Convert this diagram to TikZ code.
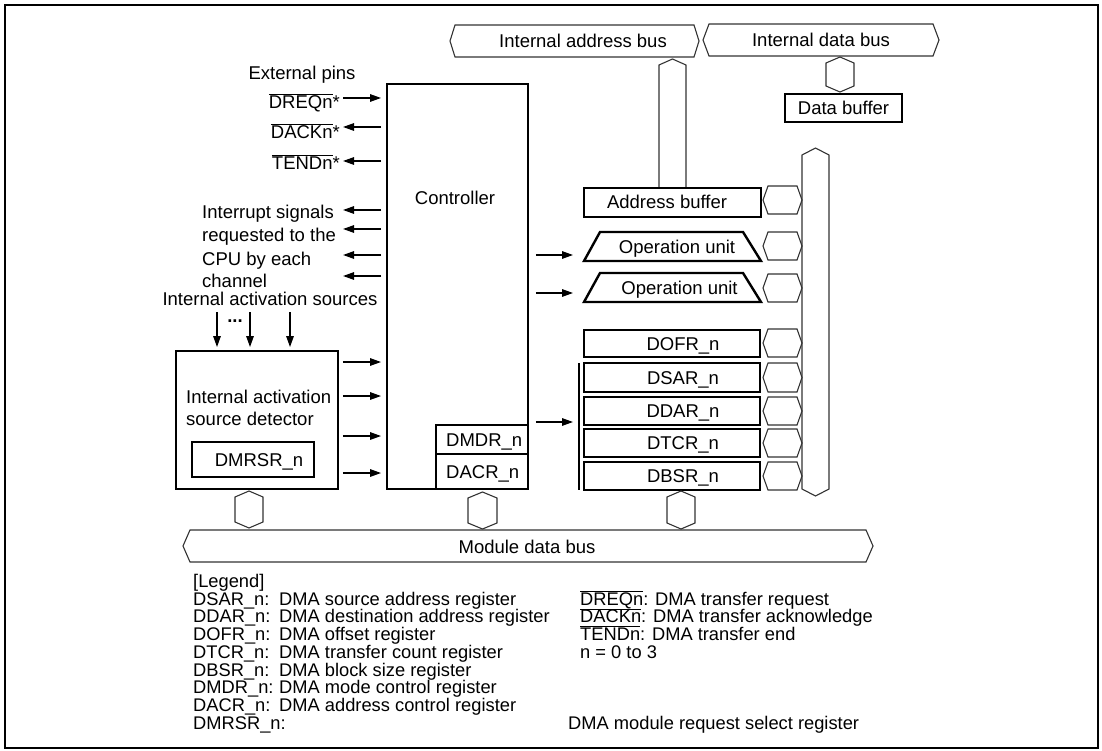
\documentclass[tikz,border=0pt]{standalone}
\usepackage{fontspec}
\setmainfont{Liberation Sans}
\usetikzlibrary{arrows.meta}
\newcommand{\mkhhex}[5]{\draw[thinln] (#1,{(#3+#4)/2}) -- ({#1+#5},#3) -- ({#2-#5},#3) -- (#2,{(#3+#4)/2}) -- ({#2-#5},#4) -- ({#1+#5},#4) -- cycle;}
\newcommand{\mkvhex}[5]{\draw[thinln] ({(#1+#2)/2},#3) -- (#2,{#3+#5}) -- (#2,{#4-#5}) -- ({(#1+#2)/2},#4) -- (#1,{#4-#5}) -- (#1,{#3+#5}) -- cycle;}
\newcommand{\ovl}[1]{$\overline{\mbox{#1}}$}
\tikzset{
  txt/.style={inner sep=0pt, text height=13.3pt, text depth=0pt, font=\fontsize{18.5}{20}\selectfont},
  leg/.style={inner sep=0pt, text height=13.1pt, text depth=0pt, font=\fontsize{18.3}{20}\selectfont, anchor=west},
  thinln/.style={draw=black!80, line width=1.1pt, line join=miter},
  boxthick/.style={draw=black, line width=2.4pt, line join=miter},
  boxmid/.style={draw=black, line width=1.9pt},
  sig/.style={line width=1.4pt, -{Triangle[length=11pt,width=7.5pt]}},
}
\begin{document}
\begin{tikzpicture}[x=1pt,y=-1pt]
\useasboundingbox (0,0) rectangle (1102,751);
\draw[line width=2pt] (5,5) rectangle (1098,748);

% ---- top buses
\mkhhex{450}{699}{25}{57}{5}
\node[txt] (iab) at (583,41) {Internal address bus};
\mkhhex{703}{939}{24}{56}{6}
\node[txt] (idb) at (821,40) {Internal data bus};
\mkvhex{826}{854}{57}{92}{6}
\node[boxthick, minimum width=117pt, minimum height=28pt, inner sep=0pt] (dbuf) at (843.5,108) {};
\node[txt] (dbuft) at (843.5,108) {Data buffer};

% ---- address bus vertical + address buffer
\draw[thinln] (659,188) -- (659,65) -- (672.5,59) -- (686,65) -- (686,188);
\node[boxthick, minimum width=177pt, minimum height=29pt, inner sep=0pt] (abuf) at (672.5,202.5) {};
\node[txt] (abuft) at (667,202) {Address buffer};

% ---- operation units
\draw[boxthick] (584,261) -- (600,232) -- (743,232) -- (761,261) -- cycle;
\node[txt] (op1) at (677,247) {Operation unit};
\draw[boxthick] (584,302) -- (600,273) -- (743,273) -- (761,302) -- cycle;
\node[txt] (op2) at (679.5,288) {Operation unit};

% ---- registers
\node[boxthick, minimum width=176pt, minimum height=27pt, inner sep=0pt] (dofr) at (672,343.5) {};
\node[boxthick, minimum width=176pt, minimum height=29pt, inner sep=0pt] (dsar) at (672,377.5) {};
\node[boxthick, minimum width=176pt, minimum height=28pt, inner sep=0pt] (ddar) at (672,411) {};
\node[boxthick, minimum width=176pt, minimum height=28pt, inner sep=0pt] (dtcr) at (672,443) {};
\node[boxthick, minimum width=176pt, minimum height=28pt, inner sep=0pt] (dbsr) at (672,476) {};
\node[txt] (dofrt) at (683,343.5) {DOFR\_n};
\node[txt] (dsart) at (683,377.5) {DSAR\_n};
\node[txt] (ddart) at (683,411) {DDAR\_n};
\node[txt] (dtcrt) at (683,443) {DTCR\_n};
\node[txt] (dbsrt) at (683,476) {DBSR\_n};
\draw[line width=2pt] (579,363) -- (579,490);
\coordinate (brk) at (579,422);

% ---- small hexes to the right bus
\mkhhex{763}{802}{186}{214}{5}
\mkhhex{763}{802}{232}{260}{5}
\mkhhex{763}{802}{274}{302}{5}
\mkhhex{763}{802}{329}{357}{5}
\mkhhex{763}{802}{363}{392}{5}
\mkhhex{763}{802}{397}{425}{5}
\mkhhex{763}{802}{429}{457}{5}
\mkhhex{763}{802}{462}{490}{5}
\mkvhex{802}{829}{148}{496}{7}

% ---- controller
\node[boxmid, minimum width=141pt, minimum height=405pt, inner sep=0pt] (ctrl) at (457.5,286.5) {};
\node[txt] (ctrlt) at (455,198) {Controller};
\node[boxmid, minimum width=92pt, minimum height=29pt, inner sep=0pt] (dmdr) at (482,439.5) {};
\node[boxmid, minimum width=92pt, minimum height=35pt, inner sep=0pt] (dacr) at (482,471.5) {};
\node[txt, anchor=west] (dmdrt) at (446,440) {DMDR\_n};
\node[txt, anchor=west] (dacrt) at (446,472) {DACR\_n};

% ---- detector
\node[boxmid, minimum width=162pt, minimum height=138pt, inner sep=0pt] (det) at (257,420) {};
\node[txt, anchor=west] (dett1) at (186,397) {Internal activation};
\node[txt, anchor=west] (dett2) at (186,419) {source detector};
\node[boxthick, minimum width=122pt, minimum height=35pt, inner sep=0pt] (dmrsr) at (253,459.5) {};
\node[txt] (dmrsrt) at (259,460) {DMRSR\_n};

% ---- bottom hexes and module data bus
\mkvhex{235}{263}{491}{528}{6}
\mkvhex{468}{497}{492}{529}{6}
\mkvhex{667}{695}{491}{529}{6}
\mkhhex{183}{873}{530}{562}{7}
\node[txt] (mdb) at (527,547) {Module data bus};

% ---- internal activation sources
\node[txt] (ias) at (270,299) {Internal activation sources};
\node[txt, font=\fontsize{18.5}{20}\selectfont\bfseries] (dots) at (235,316) {...};
\coordinate (s1) at (217,312);
\coordinate (s2) at (250,312);
\coordinate (s3) at (290,312);
\draw[sig, shorten >=3pt] (s1) -- (s1 |- det.north);
\draw[sig, shorten >=3pt] (s2) -- (s2 |- det.north);
\draw[sig, shorten >=3pt] (s3) -- (s3 |- det.north);

% ---- detector -> controller
\foreach \yy [count=\k] in {362,396,436,473}{
  \coordinate (r\k) at (0,\yy);
  \draw[sig, shorten <=4pt, shorten >=5pt] (det.east |- r\k) -- (ctrl.west |- r\k);
}

% ---- external pins
\node[txt] (extp) at (302,73) {External pins};
\node[txt, anchor=east] (dreq) at (340,102) {\ovl{DREQn}*};
\node[txt, anchor=east] (dack) at (340,132) {\ovl{DACKn}*};
\node[txt, anchor=east] (tend) at (340,163) {\ovl{TENDn}*};
\coordinate (p1) at (0,98);
\coordinate (p2) at (0,127);
\coordinate (p3) at (0,161);
\draw[sig, shorten <=3pt, shorten >=5pt] (dreq.east |- p1) -- (ctrl.west |- p1);
\draw[sig, shorten <=5pt, shorten >=3pt] (ctrl.west |- p2) -- (dack.east |- p2);
\draw[sig, shorten <=5pt, shorten >=3pt] (ctrl.west |- p3) -- (tend.east |- p3);

% ---- interrupt signals
\node[txt, anchor=west] (int1) at (202,212) {Interrupt signals};
\node[txt, anchor=west] (int2) at (202,235) {requested to the};
\node[txt, anchor=west] (int3) at (202,259) {CPU by each};
\node[txt, anchor=west] (int4) at (202,281) {channel};
\foreach \yy [count=\k] in {210,229,255,276}{
  \coordinate (ie\k) at (343,\yy);
  \draw[sig, shorten <=5pt] (ctrl.west |- ie\k) -- (ie\k);
}

% ---- controller -> operation units and registers
\coordinate (o1) at (584,255);
\coordinate (o2) at (584,293);
\draw[sig, shorten <=7pt, shorten >=11pt] (ctrl.east |- o1) -- (o1);
\draw[sig, shorten <=7pt, shorten >=11pt] (ctrl.east |- o2) -- (o2);
\draw[sig, shorten <=7pt, shorten >=6pt] (ctrl.east |- brk) -- (brk);

% ---- legend
\node[leg] (lg0) at (193,581) {[Legend]};
\node[leg] (lg1) at (193,598.7) {DSAR\_n:};
\node[leg] (lg2) at (193,616.4) {DDAR\_n:};
\node[leg] (lg3) at (193,634.1) {DOFR\_n:};
\node[leg] (lg4) at (193,651.8) {DTCR\_n:};
\node[leg] (lg5) at (193,669.5) {DBSR\_n:};
\node[leg] (lg6) at (193,687.2) {DMDR\_n:};
\node[leg] (lg7) at (193,704.9) {DACR\_n:};
\node[leg] (lg8) at (193,722.6) {DMRSR\_n:};
\node[leg] (ld1) at (279,598.7) {DMA source address register};
\node[leg] (ld2) at (279,616.4) {DMA destination address register};
\node[leg] (ld3) at (279,634.1) {DMA offset register};
\node[leg] (ld4) at (279,651.8) {DMA transfer count register};
\node[leg] (ld5) at (279,669.5) {DMA block size register};
\node[leg] (ld6) at (279,687.2) {DMA mode control register};
\node[leg] (ld7) at (279,704.9) {DMA address control register};
\node[leg] (ld8) at (568,722.6) {DMA module request select register};
\node[leg] (lr1) at (580,598.7) {\ovl{DREQn}: DMA transfer request};
\node[leg] (lr2) at (580,616.4) {\ovl{DACKn}: DMA transfer acknowledge};
\node[leg] (lr3) at (580,634.1) {\ovl{TENDn}: DMA transfer end};
\node[leg] (lr4) at (580,651.8) {n = 0 to 3};
\end{tikzpicture}
\end{document}
